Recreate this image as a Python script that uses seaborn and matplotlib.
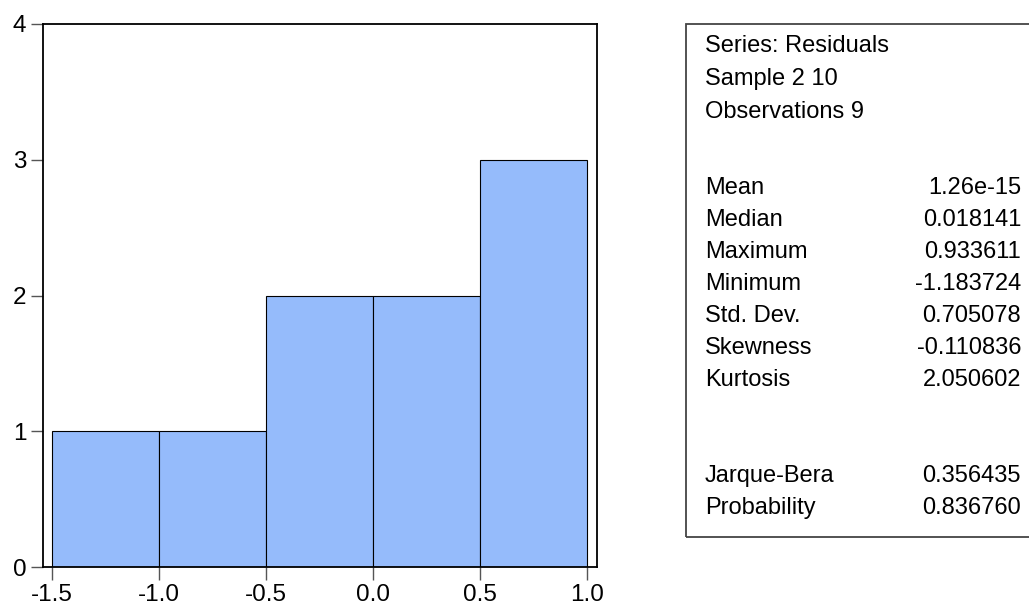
import numpy as np
import pandas as pd
import matplotlib
matplotlib.use("Agg")
import matplotlib.pyplot as plt
import seaborn as sns

# --- DATA ---
bin_edges = [-1.5, -1.0, -0.5, 0.0, 0.5, 1.0]
bin_counts = [1, 1, 2, 2, 3]
x_ticks = [-1.5, -1.0, -0.5, 0.0, 0.5, 1.0]
y_ticks = [0, 1, 2, 3, 4]

header_lines = ["Series: Residuals", "Sample 2 10", "Observations 9"]
stat_names = ["Mean", "Median", "Maximum", "Minimum", "Std. Dev.", "Skewness", "Kurtosis"]
stat_values = ["1.26e-15", "0.018141", "0.933611", "-1.183724", "0.705078", "-0.110836", "2.050602"]
test_names = ["Jarque-Bera", "Probability"]
test_values = ["0.356435", "0.836760"]

centers = [(a + b) / 2 for a, b in zip(bin_edges[:-1], bin_edges[1:])]
df = pd.DataFrame({"resid": centers, "count": bin_counts})

sns.set_style("white")
plt.rcParams["font.family"] = ["Liberation Sans", "DejaVu Sans"]
plt.rcParams["text.color"] = "black"
plt.rcParams["xtick.labelcolor"] = "black"
plt.rcParams["ytick.labelcolor"] = "black"

fig = plt.figure(figsize=(10.29, 6.04), dpi=100)
ax = fig.add_axes([43 / 1029, 1 - 567 / 604, (597 - 43) / 1029, (567 - 24) / 604])

sns.histplot(data=df, x="resid", weights="count", bins=bin_edges, ax=ax,
             color="#95bbfb", alpha=1, edgecolor="black", linewidth=0.8)

ax.set_xlim(-1.542, 1.047)
ax.set_ylim(0, 4)
ax.set_xticks(x_ticks)
ax.set_xticklabels([f"{v:.1f}" for v in x_ticks])
ax.set_yticks(y_ticks)
ax.set_xlabel("")
ax.set_ylabel("")
for s in ax.spines.values():
    s.set_color("black")
    s.set_linewidth(1.3)
ax.tick_params(axis="both", which="both", direction="out", length=9, width=1,
               color="#555555", labelcolor="black", labelsize=17.5, pad=3,
               bottom=True, left=True)

# stats box
fx = lambda px: px / 1029
fy = lambda py: 1 - py / 604
box = plt.Rectangle((fx(686), fy(537)), fx(1040) - fx(686), fy(24) - fy(537),
                    transform=fig.transFigure, fill=False, edgecolor="#444444", lw=1.3)
fig.patches.append(box)

fs = 17
y = 46
for line in header_lines:
    fig.text(fx(705), fy(y), line, fontsize=fs, va="center", ha="left", color="black")
    y += 33
y = 188
for name, val in zip(stat_names, stat_values):
    fig.text(fx(705), fy(y), name, fontsize=fs, va="center", ha="left", color="black")
    fig.text(fx(1021), fy(y), val, fontsize=fs, va="center", ha="right", color="black")
    y += 32
y = 476
for name, val in zip(test_names, test_values):
    fig.text(fx(705), fy(y), name, fontsize=fs, va="center", ha="left", color="black")
    fig.text(fx(1021), fy(y), val, fontsize=fs, va="center", ha="right", color="black")
    y += 32

fig.savefig("out.png", dpi=100)
